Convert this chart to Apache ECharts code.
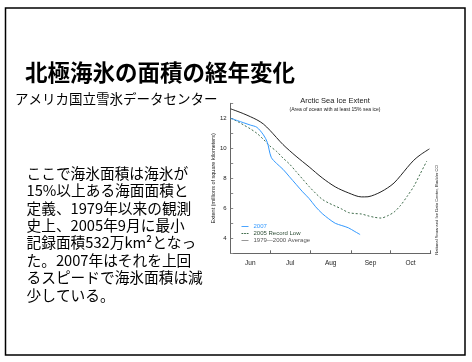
<!DOCTYPE html>
<html><head><meta charset="utf-8">
<script src="https://cdn.jsdelivr.net/npm/echarts@6/dist/echarts.min.js"></script>
<style>html,body{margin:0;padding:0;background:#fff}#c{width:472px;height:362px}</style>
</head><body><div id="c"></div>
<script>
// Days counted from June 1
const monthNames = ['Jun','Jul','Aug','Sep','Oct'];
const monthMid = [15, 45.5, 76.5, 107, 137.5];
const monthBounds = [30, 61, 92, 122, 153];

const daysAvg = [0,10,20,25,30,40,50,60,70,80,90,100,105,110,115,120,125,130,135,140,145,152];
const extentAvg = [12.63,12.3,11.9,11.62,11.2,10.25,9.47,8.76,8.03,7.43,7.03,6.76,6.77,6.9,7.1,7.36,7.69,8.18,8.71,9.2,9.56,9.96];

const days2005 = [0,5,10,15,20,25,30,35,40,45,50,55,60,65,70,75,80,85,90,95,100,105,110,115,120,125,130,135,140,145,150];
const extent2005 = [12.0,11.8,11.55,11.3,11.0,10.6,10.15,9.8,9.35,8.95,8.45,7.95,7.45,7.0,6.6,6.35,6.15,5.95,5.72,5.65,5.62,5.5,5.4,5.35,5.5,5.75,6.2,6.8,7.45,8.3,9.15];

const days2007 = [0,5,10,15,20,25,28,31,35,40,45,50,55,60,65,70,75,80,85,90,95,99];
const extent2007 = [12.0,11.85,11.7,11.55,11.4,10.9,10.4,9.4,9.0,8.6,8.1,7.6,7.1,6.65,6.1,5.65,5.3,5.0,4.85,4.7,4.45,4.25];

const yLabels = [4,6,8,10,12];

const pair = (xs, ys) => xs.map((x, i) => [x, ys[i]]);

const bodyLines = [
  'ここで海氷面積は海氷が',
  '15%以上ある海面面積と',
  '定義、1979年以来の観測',
  '史上、2005年9月に最小',
  '記録面積532万km²となっ',
  'た。2007年はそれを上回',
  'るスピードで海氷面積は減',
  '少している。'
];

const chart = echarts.init(document.getElementById('c'), null, {renderer: 'canvas'});
const latin = 'Liberation Sans, Arial, sans-serif';
const jp = '"Noto Sans CJK JP", sans-serif';
const solidIcon = 'path://M0,0h8v1h-8z';
const dashIcon = 'path://M0,0h2v1h-2z M3,0h2v1h-2z M6,0h2v1h-2z';

chart.setOption({
  animation: false,
  backgroundColor: '#fff',
  title: [
    {text: 'Arctic Sea Ice Extent', left: 330, top: 92, textAlign: 'center',
     textStyle: {fontFamily: latin, fontSize: 7.5, fontWeight: 'normal', color: '#222'}},
    {text: '(Area of ocean with at least 15% sea ice)', left: 330, top: 102.5, textAlign: 'center',
     textStyle: {fontFamily: latin, fontSize: 5, fontWeight: 'normal', color: '#222'}}
  ],
  grid: {left: 230.7, right: 41.3, top: 103.3, bottom: 108.7},
  xAxis: {
    type: 'value', min: 0, max: 153,
    axisLine: {show: true, lineStyle: {color: '#666', width: 1}},
    axisTick: {show: true, inside: true, length: 3, customValues: monthBounds, lineStyle: {color: '#666'}},
    axisLabel: {customValues: monthMid, fontFamily: latin, fontSize: 6.5, color: '#222', margin: 6,
      formatter: v => monthNames[monthMid.indexOf(v)] || ''},
    splitLine: {show: false}
  },
  yAxis: {
    type: 'value', min: 3, max: 13, interval: 1,
    name: 'Extent (millions of square kilometers)', nameLocation: 'middle', nameGap: 14,
    nameTextStyle: {fontFamily: latin, fontSize: 5.5, color: '#222'},
    axisLine: {show: true, lineStyle: {color: '#666', width: 1}},
    axisTick: {show: true, inside: true, length: 2.5, lineStyle: {color: '#888'}},
    axisLabel: {fontFamily: latin, fontSize: 6, color: '#222', margin: 4,
      formatter: v => yLabels.includes(v) ? String(v) : ''},
    splitLine: {show: false}
  },
  legend: {
    orient: 'vertical', left: 236.5, top: 218, itemWidth: 7, itemHeight: 1, itemGap: 0,
    textStyle: {fontFamily: latin, fontSize: 6, lineHeight: 7},
    data: [
      {name: '2007', icon: solidIcon, itemStyle: {color: '#3399ff'}, textStyle: {color: '#3399ff'}},
      {name: '2005 Record Low', icon: dashIcon, itemStyle: {color: '#3e6b4a'}, textStyle: {color: '#2e4d36'}},
      {name: '1979\u20142000 Average', icon: solidIcon, itemStyle: {color: '#888'}, textStyle: {color: '#555'}}
    ]
  },
  series: [
    {name: '1979\u20142000 Average', type: 'line', smooth: 0.3, symbol: 'none',
     data: pair(daysAvg, extentAvg), lineStyle: {color: '#222', width: 1}, itemStyle: {color: '#888'}},
    {name: '2005 Record Low', type: 'line', smooth: 0.3, symbol: 'none',
     data: pair(days2005, extent2005), lineStyle: {color: '#3e6b4a', width: 1, type: [2, 2]}, itemStyle: {color: '#3e6b4a'}},
    {name: '2007', type: 'line', smooth: 0.3, symbol: 'none',
     data: pair(days2007, extent2007), lineStyle: {color: '#3399ff', width: 1}, itemStyle: {color: '#3399ff'}}
  ],
  graphic: [
    {type: 'rect', shape: {x: 5.5, y: 8, width: 459.5, height: 347}, style: {fill: 'none', stroke: '#000', lineWidth: 1.5}, silent: true},
    {type: 'text', left: 25, top: 61, style: {text: '北極海氷の面積の経年変化', font: 'bold 22.5px ' + jp, fill: '#000'}},
    {type: 'text', left: 15, top: 92, style: {text: 'アメリカ国立雪氷データセンター', font: '13.5px ' + jp, fill: '#000'}},
    {type: 'text', left: 26.5, top: 164.5, style: {text: bodyLines.join('\n'), font: '14.7px ' + jp, lineHeight: 17.4, fill: '#000'}},
    {type: 'text', x: 436.7, y: 210, rotation: Math.PI / 2,
     style: {text: 'National Snow and Ice Data Center, Boulder CO', font: '4.2px ' + latin, fill: '#222', align: 'center', verticalAlign: 'middle'}}
  ]
});
</script></body></html>
